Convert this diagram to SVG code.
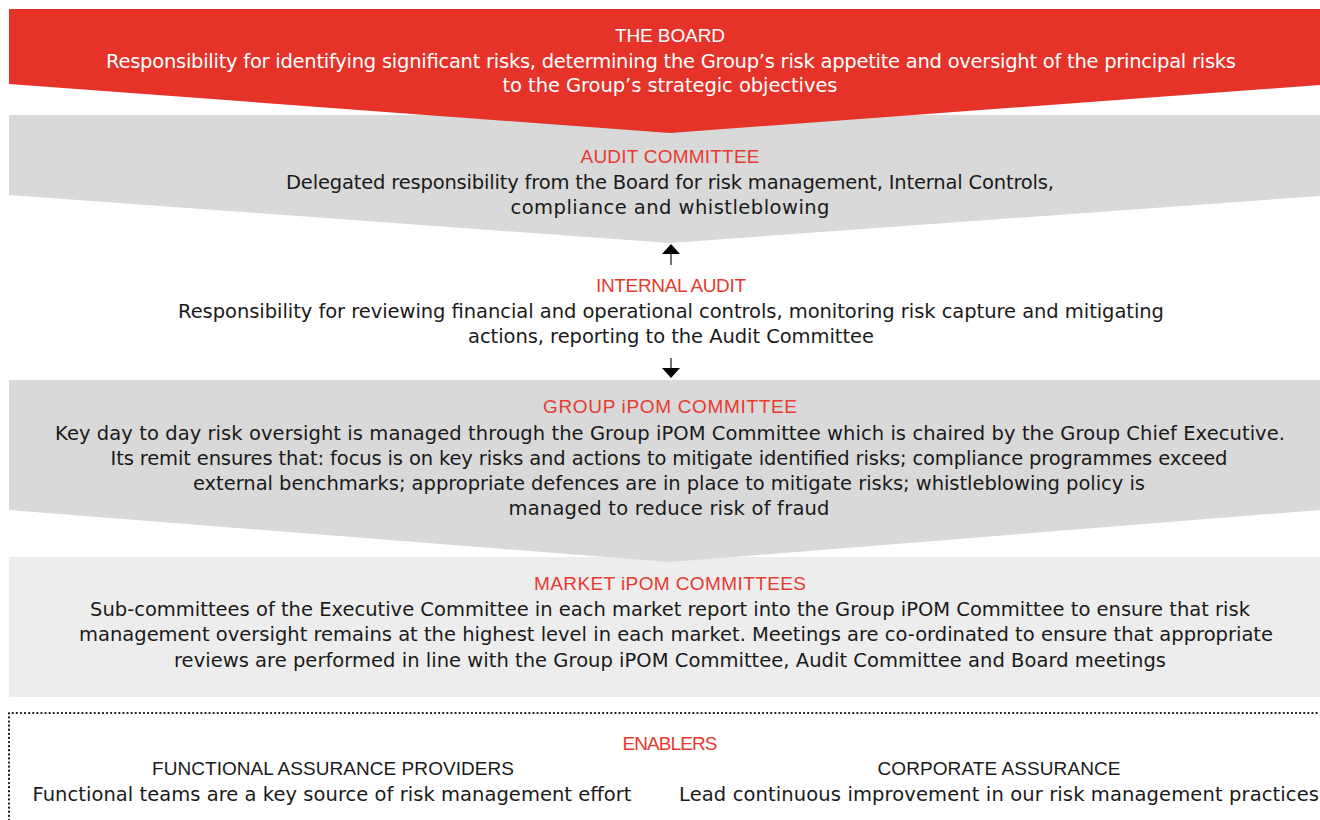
<svg xmlns="http://www.w3.org/2000/svg" width="1320" height="820" viewBox="0 0 1320 820">
<style>
text{font-family:"DejaVu Sans","Liberation Sans",Arial,sans-serif;font-size:19.5px;text-anchor:middle;fill:#1a1a1a}
.w{fill:#ffffff}
.r{fill:#e63b30}
.h{font-family:"Liberation Sans",Arial,sans-serif;font-size:19px}
.sh{stroke:#444;stroke-width:1.5;fill:none}
.hd{fill:#000}
</style>
<rect width="1320" height="820" fill="#ffffff"/>
<g id="audit-committee">
<polygon points="9,115 1320,115 1320,196 670,243 9,195" fill="#d9d9d9"/>
<text x="670" y="163" class="r h" textLength="179">AUDIT COMMITTEE</text>
<text x="670" y="189" textLength="768">Delegated responsibility from the Board for risk management, Internal Controls,</text>
<text x="670" y="214" textLength="319">compliance and whistleblowing</text>
</g>
<g id="the-board">
<polygon points="9,9 1320,9 1320,85 670,133 9,84" fill="#e5332a"/>
<text x="670" y="42" class="w h" textLength="110">THE BOARD</text>
<text x="671" y="68" class="w" textLength="1130">Responsibility for identifying significant risks, determining the Group’s risk appetite and oversight of the principal risks</text>
<text x="670" y="92" class="w" textLength="335">to the Group’s strategic objectives</text>
</g>
<g id="internal-audit">
<text x="671" y="292" class="r h" textLength="150">INTERNAL AUDIT</text>
<text x="671" y="318" textLength="986">Responsibility for reviewing financial and operational controls, monitoring risk capture and mitigating</text>
<text x="671" y="343" textLength="406">actions, reporting to the Audit Committee</text>
</g>
<g id="market-ipom-committees">
<rect x="9" y="557" width="1311" height="140" fill="#ededed"/>
<text x="670" y="590" class="r h" textLength="272">MARKET iPOM COMMITTEES</text>
<text x="670" y="616" textLength="1160">Sub-committees of the Executive Committee in each market report into the Group iPOM Committee to ensure that risk</text>
<text x="676" y="641" textLength="1194">management oversight remains at the highest level in each market. Meetings are co-ordinated to ensure that appropriate</text>
<text x="670" y="667" textLength="992">reviews are performed in line with the Group iPOM Committee, Audit Committee and Board meetings</text>
</g>
<g id="group-ipom-committee">
<polygon points="9,380 1320,380 1320,510 670,562 9,510" fill="#d9d9d9"/>
<text x="670" y="413" class="r h" textLength="254">GROUP iPOM COMMITTEE</text>
<text x="670" y="440" textLength="1230">Key day to day risk oversight is managed through the Group iPOM Committee which is chaired by the Group Chief Executive.</text>
<text x="669" y="465" textLength="1117">Its remit ensures that: focus is on key risks and actions to mitigate identified risks; compliance programmes exceed</text>
<text x="669" y="490" textLength="952">external benchmarks; appropriate defences are in place to mitigate risks; whistleblowing policy is</text>
<text x="669" y="515" textLength="321">managed to reduce risk of fraud</text>
</g>
<g id="enablers">
<path d="M9,820 V713 H1318" fill="none" stroke="#111" stroke-width="2.2" stroke-dasharray="0.1 4" stroke-linecap="round"/>
<text x="670" y="750" class="r h" textLength="95">ENABLERS</text>
<text x="333" y="775" class="h" textLength="362">FUNCTIONAL ASSURANCE PROVIDERS</text>
<text x="999" y="775" class="h" textLength="243">CORPORATE ASSURANCE</text>
<text x="332" y="801" textLength="599">Functional teams are a key source of risk management effort</text>
<text x="999" y="801" textLength="640">Lead continuous improvement in our risk management practices</text>
</g>
<g id="connectors">
<line x1="671" y1="265" x2="671" y2="253" class="sh"/>
<polygon points="662,254 680,254 671,244" class="hd"/>
<line x1="671" y1="358" x2="671" y2="369" class="sh"/>
<polygon points="662,368 680,368 671,378" class="hd"/>
</g>
</svg>
